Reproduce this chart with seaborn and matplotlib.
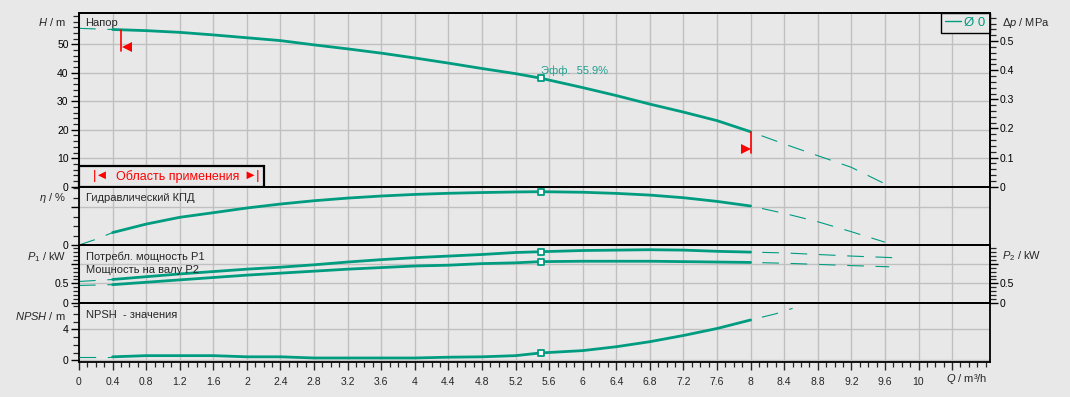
import numpy as np
import pandas as pd
import matplotlib
matplotlib.use("Agg")
import matplotlib.pyplot as plt
import seaborn as sns
from matplotlib.ticker import FixedLocator, MultipleLocator, FuncFormatter
from matplotlib.patches import Rectangle
from matplotlib.lines import Line2D

# ---------------- data ----------------
q_head = [0.0, 0.4, 0.8, 1.2, 1.6, 2.0, 2.4, 2.8, 3.2, 3.6, 4.0, 4.4, 4.8, 5.2, 5.5,
          6.0, 6.4, 6.8, 7.2, 7.6, 8.0, 8.4, 8.8, 9.2, 9.6]
head = [55.6, 55.2, 54.8, 54.2, 53.3, 52.3, 51.3, 49.8, 48.4, 46.9, 45.2, 43.4, 41.5, 39.7, 38.1,
        34.8, 32.0, 29.0, 26.2, 23.2, 19.3, 15.0, 10.9, 6.8, 1.0]

q_eta = [0.0, 0.2, 0.4, 0.8, 1.2, 1.6, 2.0, 2.4, 2.8, 3.2, 3.6, 4.0, 4.4, 4.8, 5.2, 5.5,
         6.0, 6.4, 6.8, 7.2, 7.6, 8.0, 8.4, 8.8, 9.2, 9.6]
eta = [0.0, 6.0, 13.2, 22.2, 29.4, 34.3, 39.3, 43.5, 47.0, 49.8, 52.0, 53.7, 54.9, 55.7, 56.3, 56.6,
       56.0, 54.8, 53.0, 50.2, 46.3, 41.4, 33.6, 24.7, 14.1, 3.0]

q_p1 = [0.0, 0.4, 0.8, 1.2, 1.6, 2.0, 2.4, 2.8, 3.2, 3.6, 4.0, 4.4, 4.8, 5.2, 5.5,
        6.0, 6.4, 6.8, 7.2, 7.6, 8.0, 8.4, 8.8, 9.2, 9.7]
p1 = [0.55, 0.60, 0.67, 0.74, 0.80, 0.86, 0.91, 0.97, 1.04, 1.10, 1.15, 1.19, 1.23, 1.28, 1.30,
      1.33, 1.34, 1.35, 1.34, 1.31, 1.29, 1.27, 1.23, 1.19, 1.15]

q_p2 = [0.0, 0.4, 0.8, 1.2, 1.6, 2.0, 2.4, 2.8, 3.2, 3.6, 4.0, 4.4, 4.8, 5.2, 5.5,
        6.0, 6.4, 6.8, 7.2, 7.6, 8.0, 8.4, 8.8, 9.2, 9.65]
p2 = [0.45, 0.47, 0.53, 0.59, 0.65, 0.71, 0.76, 0.81, 0.86, 0.90, 0.94, 0.96, 1.00, 1.02, 1.05,
      1.06, 1.06, 1.06, 1.05, 1.04, 1.03, 1.01, 0.98, 0.95, 0.92]

q_npsh = [0.0, 0.4, 0.8, 1.2, 1.6, 2.0, 2.4, 2.8, 3.2, 3.6, 4.0, 4.4, 4.8, 5.2, 5.5,
          6.0, 6.4, 6.8, 7.2, 7.6, 8.0, 8.3, 8.5]
npsh = [0.45, 0.45, 0.6, 0.6, 0.6, 0.45, 0.45, 0.3, 0.3, 0.3, 0.3, 0.4, 0.45, 0.6, 0.95,
        1.25, 1.75, 2.4, 3.2, 4.1, 5.2, 6.0, 6.7]

range_q = [0.4, 8.0]          # application range (solid part)
limit_marks = [0.5, 8.0]      # red limit markers
duty_q = 5.5
eff_text = "Эфф.  55.9%"

x_ticks = [round(0.4 * i, 1) for i in range(27)]

# ---------------- style ----------------
TEAL = "#009c80"
BG = "#e8e8e8"
GRID = "#c0c0c0"
RED = "#ff0000"

sns.set_style("white")
plt.rcParams["font.family"] = ["Liberation Sans", "DejaVu Sans"]
plt.rcParams["mathtext.fontset"] = "custom"
plt.rcParams["mathtext.rm"] = "Liberation Sans"
plt.rcParams["mathtext.it"] = "Liberation Sans:italic"
plt.rcParams["mathtext.bf"] = "Liberation Sans:bold"

W, H = 1070, 397
fig = plt.figure(figsize=(W / 100, H / 100), dpi=100, facecolor=BG)

AX_L, AX_R = 79, 989.7

def rect(top_px, bot_px, left_px=AX_L, right_px=AX_R):
    return [left_px / W, 1 - bot_px / H, (right_px - left_px) / W, (bot_px - top_px) / H]

ax_h = fig.add_axes(rect(12.7, 186.7))
ax_e = fig.add_axes(rect(186.7, 245.0), sharex=ax_h)
ax_p = fig.add_axes(rect(245.0, 303.3), sharex=ax_h)
ax_n = fig.add_axes(rect(303.3, 361.7), sharex=ax_h)
axes = [ax_h, ax_e, ax_p, ax_n]

DASH_L = (0, (15, 10.5))
DASH_R = (15, (15, 10.5))

def draw_curve(ax, qv, yv):
    df = pd.DataFrame({"Q": qv, "v": yv})
    lo, hi = range_q
    solid = df[(df.Q >= lo) & (df.Q <= hi)]
    left = df[df.Q <= lo]
    right = df[df.Q >= hi]
    sns.lineplot(data=solid, x="Q", y="v", ax=ax, color=TEAL, lw=2.0, sort=False,
                 estimator=None, legend=False, zorder=4)
    if len(left) > 1:
        sns.lineplot(data=left, x="Q", y="v", ax=ax, color=TEAL, lw=0.8, sort=False,
                     estimator=None, legend=False, linestyle=DASH_L, zorder=4)
    if len(right) > 1:
        sns.lineplot(data=right, x="Q", y="v", ax=ax, color=TEAL, lw=0.8, sort=False,
                     estimator=None, legend=False, linestyle=DASH_R, zorder=4)
    i = list(qv).index(duty_q)
    sns.scatterplot(x=[qv[i]], y=[yv[i]], ax=ax, marker="s", s=22, color="white",
                    edgecolor=TEAL, linewidth=1.3, zorder=6, legend=False)
    ax.set_xlabel("")
    ax.set_ylabel("")

draw_curve(ax_h, q_head, head)
draw_curve(ax_e, q_eta, eta)
draw_curve(ax_p, q_p1, p1)
draw_curve(ax_p, q_p2, p2)
draw_curve(ax_n, q_npsh, npsh)

# red limit markers on the head curve
for k, ql in enumerate(limit_marks):
    hv = float(np.interp(ql, q_head, head))
    ax_h.plot([ql, ql], [hv, hv - 7.4], color=RED, lw=1.2, zorder=7)
    if k == 0:
        ax_h.plot([ql + 0.07], [hv - 5.9], marker="<", color=RED, ms=7.5, mew=0, zorder=7)
    else:
        ax_h.plot([ql - 0.05], [hv - 6.1], marker=">", color=RED, ms=7.5, mew=0, zorder=7)

# ---------------- axes formatting ----------------
XMAX = (AX_R - AX_L) / 83.95
fmt = FuncFormatter(lambda v, p: f"{v:g}")

for ax in axes:
    ax.set_facecolor(BG)
    ax.set_xlim(0, XMAX)
    ax.xaxis.set_major_locator(FixedLocator(x_ticks))
    ax.xaxis.set_minor_locator(MultipleLocator(0.1))
    ax.grid(True, which="major", color=GRID, lw=1.0)
    ax.set_axisbelow(True)
    for s in ax.spines.values():
        s.set_color("black")
        s.set_linewidth(1.3)
    ax.tick_params(axis="y", which="major", direction="out", length=6, width=1,
                   pad=1.5, labelsize=7.5, colors="black", left=True)
    ax.tick_params(axis="y", which="minor", direction="out", length=4, width=0.9,
                   left=True)
    ax.tick_params(axis="x", which="both", length=0, labelbottom=False)

ax_n.tick_params(axis="x", which="major", direction="out", length=6, width=1,
                 pad=5, labelsize=7.5, bottom=True, labelbottom=True)
ax_n.tick_params(axis="x", which="minor", direction="out", length=3.5, width=0.9,
                 bottom=True)
ax_n.xaxis.set_major_formatter(FuncFormatter(lambda v, p: "" if v > 10.1 else f"{v:g}"))

# H panel
ax_h.set_ylim(0, 61.1)
ax_h.yaxis.set_major_locator(FixedLocator([0, 10, 20, 30, 40, 50]))
ax_h.yaxis.set_minor_locator(MultipleLocator(2))
ax_h.yaxis.set_major_formatter(fmt)

# eta panel
ax_e.set_ylim(0, 61.9)
ax_e.yaxis.set_major_locator(FixedLocator([0, 40]))
ax_e.yaxis.set_minor_locator(MultipleLocator(10))
ax_e.yaxis.set_major_formatter(FuncFormatter(lambda v, p: "0" if v == 0 else ""))

# power panel
ax_p.set_ylim(0, 1.469)
ax_p.yaxis.set_major_locator(FixedLocator([0, 0.5, 1.0]))
ax_p.yaxis.set_minor_locator(MultipleLocator(0.1))
ax_p.yaxis.set_major_formatter(FuncFormatter(lambda v, p: "" if v > 0.9 else f"{v:g}"))

# NPSH panel
ax_n.set_ylim(-0.18, 7.35)
ax_n.yaxis.set_major_locator(FixedLocator([0, 4]))
ax_n.yaxis.set_minor_locator(FixedLocator([1, 2, 3, 5, 6, 7]))
ax_n.yaxis.set_major_formatter(fmt)

# right axes
def right_axis(ax, ylim, majors, minor_step, labels_fmt):
    tw = ax.twinx()
    tw.set_ylim(*ylim)
    tw.patch.set_visible(False)
    tw.grid(False)
    for s in tw.spines.values():
        s.set_color("black")
        s.set_linewidth(1.3)
    tw.yaxis.set_major_locator(FixedLocator(majors))
    tw.yaxis.set_minor_locator(MultipleLocator(minor_step))
    tw.yaxis.set_major_formatter(labels_fmt)
    tw.tick_params(axis="y", which="major", direction="out", length=6, width=1,
                   pad=1.5, labelsize=7.5, colors="black", right=True)
    tw.tick_params(axis="y", which="minor", direction="out", length=4, width=0.9,
                   right=True)
    return tw

right_axis(ax_h, (0, 0.5975), [0, 0.1, 0.2, 0.3, 0.4, 0.5], 0.02, fmt)
right_axis(ax_p, (0, 1.469), [0, 0.5, 1.0], 0.1,
           FuncFormatter(lambda v, p: "" if v > 0.9 else f"{v:g}"))

# ---------------- texts ----------------
def ftext(x, y, s, ha="left", va="center", **kw):
    fig.text(x / W, 1 - y / H, s, ha=ha, va=va, **kw)

ftext(66, 22, "$H$ / m", ha="right", fontsize=8)
ftext(66, 198, "$\\eta$ / %", ha="right", fontsize=8)
ftext(66, 257, "$P_1$ / kW", ha="right", fontsize=8)
ftext(66, 315.5, "$NPSH$ / m", ha="right", fontsize=8)
ftext(1001.5, 23, "Δ$p$ / MPa", fontsize=8)
ftext(1001.5, 256, "$P_2$ / kW", fontsize=8)
ftext(967, 379.5, "$Q$ / m³/h", ha="center", fontsize=8)

ftext(85, 23.5, "Напор", fontsize=8)
ftext(85.5, 198, "Гидравлический КПД", fontsize=8)
ftext(85.5, 257, "Потребл. мощность P1", fontsize=8)
ftext(85.5, 270, "Мощность на валу P2", fontsize=8)
ftext(85.5, 315.5, "NPSH  - значения", fontsize=8)
ftext(541, 71, eff_text, fontsize=8, color="#1fa090")

# application range box
AXW = AX_R - AX_L
bw = (264 - AX_L) / AXW
bh = (186.7 - 166) / (186.7 - 12.7)
ax_h.add_patch(Rectangle((0, 0), bw, bh, transform=ax_h.transAxes, facecolor=BG,
                         edgecolor="black", lw=1.6, zorder=8, clip_on=False))
ax_h.text((93 - AX_L) / AXW, bh / 2, "|◄", transform=ax_h.transAxes,
          ha="left", va="center", color=RED, fontsize=9.5, zorder=9)
ax_h.text((177.5 - AX_L) / AXW, bh / 2, "Область применения", transform=ax_h.transAxes,
          ha="center", va="center", color=RED, fontsize=9, zorder=9)
ax_h.text((260 - AX_L) / AXW, bh / 2, "►|", transform=ax_h.transAxes,
          ha="right", va="center", color=RED, fontsize=9.5, zorder=9)

# legend box
handle = Line2D([], [], color=TEAL, lw=1.0)
leg = ax_h.legend([handle], ["Ø 0"], loc="upper right", bbox_to_anchor=(1, 1),
                  borderaxespad=0, frameon=True, fancybox=False, edgecolor="black",
                  facecolor=BG, framealpha=1, fontsize=9.5, handlelength=1.2,
                  handletextpad=0.3, borderpad=0.3, labelcolor=TEAL)
leg.get_frame().set_linewidth(1.0)
leg.set_zorder(10)

fig.savefig("out.png", dpi=100, facecolor=BG)
